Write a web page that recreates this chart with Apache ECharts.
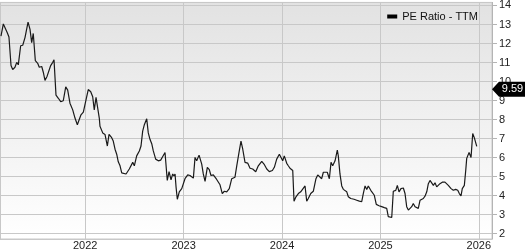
<!DOCTYPE html>
<html>
<head>
<meta charset="utf-8">
<script src="https://cdn.jsdelivr.net/npm/echarts@6/dist/echarts.min.js"></script>
<style>html,body{margin:0;padding:0;background:#fff}#c{width:527px;height:251px}</style>
</head>
<body>
<div id="c"></div>
<script>
// decimal-year dates
var years = [2021.144,2021.168,2021.185,2021.208,2021.225,2021.246,2021.263,2021.286,2021.304,2021.320,2021.344,2021.365,2021.388,2021.419,2021.439,2021.456,2021.472,2021.493,2021.517,2021.533,2021.558,2021.574,2021.591,2021.612,2021.629,2021.649,2021.670,2021.683,2021.703,2021.727,2021.751,2021.777,2021.802,2021.822,2021.845,2021.873,2021.896,2021.920,2021.937,2021.957,2021.981,2022.008,2022.031,2022.056,2022.076,2022.092,2022.110,2022.123,2022.143,2022.150,2022.178,2022.201,2022.225,2022.242,2022.269,2022.285,2022.303,2022.320,2022.336,2022.354,2022.371,2022.387,2022.415,2022.432,2022.448,2022.465,2022.483,2022.499,2022.523,2022.550,2022.567,2022.584,2022.601,2022.625,2022.641,2022.658,2022.676,2022.692,2022.716,2022.743,2022.767,2022.788,2022.811,2022.821,2022.834,2022.852,2022.872,2022.889,2022.902,2022.913,2022.923,2022.936,2022.956,2022.981,2022.997,2023.014,2023.042,2023.065,2023.099,2023.116,2023.133,2023.157,2023.184,2023.200,2023.218,2023.241,2023.261,2023.278,2023.302,2023.319,2023.336,2023.353,2023.370,2023.393,2023.414,2023.438,2023.464,2023.489,2023.505,2023.522,2023.540,2023.563,2023.583,2023.601,2023.624,2023.651,2023.675,2023.702,2023.733,2023.759,2023.794,2023.817,2023.845,2023.871,2023.902,2023.922,2023.946,2023.973,2023.990,2024.007,2024.023,2024.048,2024.064,2024.081,2024.099,2024.109,2024.122,2024.142,2024.166,2024.190,2024.206,2024.234,2024.251,2024.267,2024.292,2024.318,2024.345,2024.363,2024.379,2024.403,2024.420,2024.437,2024.460,2024.481,2024.498,2024.515,2024.539,2024.562,2024.572,2024.589,2024.607,2024.623,2024.640,2024.658,2024.674,2024.698,2024.732,2024.759,2024.786,2024.810,2024.826,2024.844,2024.861,2024.877,2024.902,2024.922,2024.938,2024.958,2024.986,2025.013,2025.040,2025.064,2025.080,2025.098,2025.115,2025.131,2025.156,2025.172,2025.189,2025.209,2025.233,2025.250,2025.267,2025.284,2025.301,2025.318,2025.334,2025.352,2025.369,2025.385,2025.403,2025.420,2025.436,2025.453,2025.471,2025.487,2025.504,2025.521,2025.538,2025.555,2025.572,2025.588,2025.605,2025.629,2025.656,2025.674,2025.690,2025.718,2025.741,2025.765,2025.786,2025.802,2025.819,2025.832,2025.853,2025.867,2025.877,2025.901,2025.921,2025.938,2025.954,2025.979];

// PE Ratio - TTM values
var peValues = [12.39,13.03,12.96,12.57,12.34,10.84,10.63,10.75,11.01,10.88,11.88,11.91,12.31,13.12,12.74,12.05,12.53,11.10,10.96,10.75,10.79,10.49,10.06,10.27,10.27,10.84,11.01,11.14,9.29,9.12,8.94,8.99,9.72,9.55,8.86,8.51,8.08,7.73,7.82,8.25,8.39,9.03,9.58,9.46,9.20,8.51,9.17,9.20,8.08,7.65,7.30,7.22,6.61,7.22,7.05,6.87,6.44,6.18,5.78,5.57,5.20,5.23,5.14,5.14,5.40,5.44,5.75,5.57,6.09,6.35,6.61,7.39,7.73,8.04,7.30,6.96,6.73,6.35,5.92,5.83,5.87,6.06,6.27,6.30,4.80,5.26,4.83,5.14,5.03,5.14,4.46,3.81,4.20,4.37,4.46,4.89,5.09,5.06,4.92,6.01,5.83,6.13,5.66,5.14,4.75,5.49,5.37,5.06,5.09,4.97,4.85,4.80,4.57,4.11,4.23,4.20,4.37,4.89,4.83,4.97,5.57,6.27,6.87,6.44,5.75,5.71,5.44,5.40,5.26,5.57,5.80,5.66,5.40,5.26,5.32,5.49,5.92,6.18,6.23,5.83,6.09,5.70,5.57,5.44,5.49,5.32,3.71,3.94,4.11,4.20,4.11,4.51,3.71,3.85,4.11,4.23,4.89,5.09,5.00,4.89,5.23,5.14,5.23,4.89,5.75,5.57,5.83,6.40,6.09,5.14,4.51,4.33,4.40,4.20,3.94,3.85,3.81,3.76,3.71,3.68,4.11,4.51,4.32,4.51,4.28,4.28,4.02,3.54,3.47,3.42,3.37,3.33,2.90,2.81,2.85,4.23,4.28,4.54,4.20,4.37,4.40,4.11,3.42,3.24,3.30,3.42,3.59,3.42,3.50,3.33,3.76,3.80,3.85,3.97,4.20,4.63,4.80,4.85,4.54,4.68,4.46,4.37,4.63,4.71,4.71,4.71,4.54,4.37,4.28,4.33,4.28,4.11,3.99,4.37,4.54,5.32,5.96,6.27,6.01,7.27,7.05,6.59];

var seriesName = 'PE Ratio - TTM';
var currentLabel = 9.59;
var xMin = 2021.134, xMax = 2026.134;
var yMin = 1.72, yMax = 14.16;

var n = Math.min(years.length, peValues.length);
var pairs = [];
for (var i = 0; i < n; i++) pairs.push([years[i], peValues[i]]);

var font = "'Liberation Sans', Arial, sans-serif";
var chart = echarts.init(document.getElementById('c'), null, {renderer: 'canvas'});
chart.setOption({
  animation: false,
  backgroundColor: '#ffffff',
  grid: {
    left: 0, right: 35, top: 1, bottom: 9.5,
    show: true,
    borderColor: '#c8c8c8', borderWidth: 1,
    backgroundColor: {type: 'linear', x: 0, y: 0, x2: 0, y2: 1,
      colorStops: [{offset: 0, color: '#e2e2e2'}, {offset: 1, color: '#ffffff'}]}
  },
  legend: {
    show: true, right: 44, top: 6,
    icon: 'rect', itemWidth: 10, itemHeight: 4, itemGap: 5,
    textStyle: {fontFamily: font, fontSize: 11, color: '#111'},
    data: [seriesName]
  },
  xAxis: {
    type: 'value', min: xMin, max: xMax, splitNumber: 5,
    axisLine: {show: true, lineStyle: {color: '#c8c8c8'}},
    axisTick: {show: false},
    splitLine: {show: true, lineStyle: {color: '#c8c8c8', width: 1}},
    axisLabel: {
      showMinLabel: false, showMaxLabel: false, margin: 1,
      fontFamily: font, fontSize: 11, color: '#222',
      formatter: function (v) { return Math.abs(v - Math.round(v)) < 1e-6 ? String(Math.round(v)) : ''; }
    }
  },
  yAxis: {
    type: 'value', position: 'right', min: yMin, max: yMax, splitNumber: 12,
    axisLine: {show: true, lineStyle: {color: '#b4b4b4'}},
    axisTick: {show: true, length: 5, lineStyle: {color: '#b4b4b4'}},
    splitLine: {show: true, lineStyle: {color: '#c8c8c8', width: 1}},
    axisLabel: {
      showMinLabel: false, showMaxLabel: false, margin: 7,
      fontFamily: font, fontSize: 11, color: '#222',
      formatter: function (v) { return Math.abs(v - Math.round(v)) < 1e-6 ? String(Math.round(v)) : ''; }
    }
  },
  series: [{
    name: seriesName, type: 'line', data: pairs,
    showSymbol: false, symbol: 'none',
    lineStyle: {color: '#1a1a1a', width: 1.2},
    itemStyle: {color: '#000'},
    markPoint: {
      silent: true,
      symbol: 'path://M0,7.5 L7,0 L33,0 L33,15 L7,15 Z',
      symbolSize: [33, 15],
      symbolOffset: [16.5, 0],
      symbolKeepAspect: false,
      itemStyle: {color: '#000'},
      label: {show: true, position: 'inside', offset: [4, 0], color: '#fff', fontFamily: font, fontSize: 11,
        formatter: function () { return currentLabel.toFixed(2); }},
      data: [{coord: [xMax, currentLabel]}]
    }
  }]
});
</script>
</body>
</html>
